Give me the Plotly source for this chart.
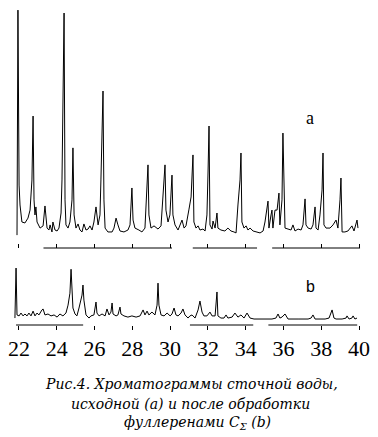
import plotly.graph_objects as go

# ---- Data (retention time, min; detector signal, arb. units) ----
time_a = [21.90, 21.95, 22.01, 22.06, 22.16, 22.32, 22.48, 22.59, 22.69, 22.75,
          22.80, 22.85, 22.90, 22.96, 23.12, 23.28, 23.38, 23.49, 23.59, 23.65,
          23.75, 23.80, 23.91, 24.02, 24.12, 24.23, 24.28, 24.33, 24.39, 24.44,
          24.49, 24.60, 24.70, 24.81, 24.86, 24.92, 25.02, 25.13, 25.23, 25.34,
          25.44, 25.55, 25.66, 25.76, 25.87, 25.97, 26.08, 26.19, 26.29, 26.34,
          26.40, 26.45, 26.50, 26.56, 26.71, 26.93, 27.03, 27.14, 27.24, 27.35,
          27.56, 27.77, 27.88, 27.98, 28.04, 28.14, 28.35, 28.51, 28.67, 28.72,
          28.83, 28.88, 28.99, 29.15, 29.36, 29.52, 29.62, 29.73, 29.78, 29.89,
          29.99, 30.10, 30.15, 30.26, 30.42, 30.52, 30.63, 30.74, 30.84, 31.00,
          31.11, 31.21, 31.26, 31.37, 31.48, 31.58, 31.74, 31.85, 31.95, 32.01,
          32.06, 32.11, 32.22, 32.27, 32.38, 32.48, 32.53, 32.69, 32.90, 33.06,
          33.22, 33.38, 33.49, 33.59, 33.70, 33.75, 33.80, 33.91, 34.02, 34.12,
          34.23, 34.39, 34.54, 34.76, 34.92, 35.02, 35.18, 35.23, 35.34, 35.39,
          35.44, 35.55, 35.66, 35.76, 35.81, 35.92, 35.97, 36.03, 36.08, 36.24,
          36.40, 36.50, 36.61, 36.77, 36.93, 37.03, 37.14, 37.19, 37.30, 37.46,
          37.56, 37.67, 37.72, 37.83, 37.93, 38.04, 38.09, 38.14, 38.25, 38.46,
          38.62, 38.78, 38.88, 38.99, 39.04, 39.10, 39.25, 39.41, 39.62, 39.73,
          39.84, 39.89, 39.94]
signal_a = [5.3, 97.9, 25.9, 17.7, 10.7, 10.3, 12.3, 15.6, 28.0, 54.3,
            19.8, 13.6, 16.9, 10.7, 8.2, 9.1, 17.3, 8.2, 7.4, 9.5,
            6.6, 10.7, 7.4, 7.0, 8.2, 14.4, 28.0, 60.9, 96.7, 19.8,
            9.5, 8.2, 10.7, 19.8, 41.2, 13.6, 8.2, 9.9, 7.4, 6.6,
            9.9, 7.4, 7.8, 9.1, 7.4, 10.7, 16.9, 9.5, 13.6, 28.0,
            52.7, 64.6, 19.8, 8.2, 6.6, 6.6, 8.2, 12.3, 9.5, 7.0,
            6.6, 7.4, 9.5, 24.7, 11.5, 8.2, 7.4, 6.6, 8.2, 15.6,
            34.2, 13.6, 8.2, 9.1, 7.8, 9.1, 21.8, 34.2, 15.6, 10.7,
            13.6, 30.0, 13.6, 9.5, 7.4, 9.1, 11.5, 8.2, 9.1, 16.0,
            21.0, 38.3, 10.7, 8.2, 9.1, 7.4, 7.8, 7.0, 13.6, 32.1,
            50.2, 9.5, 7.8, 11.1, 8.2, 14.4, 8.2, 7.4, 7.0, 8.2,
            7.0, 6.6, 6.2, 17.7, 28.0, 39.1, 10.7, 8.2, 9.1, 7.4,
            8.2, 7.0, 6.6, 6.2, 7.0, 10.7, 19.3, 8.2, 13.6, 15.6,
            8.2, 15.6, 15.6, 22.6, 9.5, 19.8, 47.3, 19.8, 8.2, 7.8,
            7.4, 9.5, 7.0, 7.8, 7.4, 9.5, 20.2, 9.5, 8.2, 7.8,
            9.5, 16.9, 8.2, 7.4, 13.6, 23.9, 39.1, 9.5, 8.2, 8.2,
            9.5, 11.5, 8.2, 19.8, 28.8, 6.6, 6.6, 7.0, 9.1, 7.0,
            9.5, 11.5, 8.2]

time_b = [21.79, 21.85, 21.90, 22.01, 22.11, 22.22, 22.32, 22.43, 22.53, 22.64,
          22.75, 22.85, 22.96, 23.06, 23.22, 23.28, 23.38, 23.54, 23.70, 23.86,
          24.02, 24.17, 24.33, 24.49, 24.60, 24.70, 24.76, 24.81, 24.86, 24.97,
          25.07, 25.18, 25.23, 25.34, 25.39, 25.44, 25.55, 25.71, 25.81, 25.97,
          26.08, 26.13, 26.24, 26.40, 26.56, 26.66, 26.77, 26.87, 26.93, 26.98,
          27.14, 27.24, 27.35, 27.40, 27.56, 27.77, 27.98, 28.20, 28.41, 28.57,
          28.67, 28.78, 28.88, 29.04, 29.20, 29.31, 29.36, 29.41, 29.52, 29.68,
          29.84, 30.00, 30.10, 30.21, 30.31, 30.42, 30.58, 30.68, 30.79, 30.95,
          31.05, 31.16, 31.32, 31.48, 31.58, 31.69, 31.79, 31.95, 32.11, 32.22,
          32.38, 32.43, 32.48, 32.53, 32.69, 32.85, 32.96, 33.06, 33.28, 33.43,
          33.59, 33.75, 33.91, 34.07, 34.23, 34.44, 34.86, 35.39, 35.60, 35.71,
          35.81, 35.92, 36.08, 36.24, 36.77, 37.30, 37.46, 37.56, 37.67, 38.20,
          38.41, 38.51, 38.57, 38.67, 38.78, 39.10, 39.31, 39.36, 39.47, 39.62,
          39.68, 39.78, 39.89]
signal_b = [2.9, 23.8, 4.2, 3.8, 5.0, 3.8, 4.6, 3.8, 5.0, 3.8,
            5.8, 3.8, 5.0, 4.2, 6.3, 6.7, 4.2, 4.6, 3.8, 4.2,
            3.3, 4.6, 3.8, 5.0, 8.3, 13.3, 23.3, 12.5, 7.1, 4.6,
            3.8, 7.1, 9.2, 12.5, 16.7, 10.4, 4.2, 2.9, 3.8, 4.2,
            9.6, 5.0, 3.8, 4.6, 3.8, 6.7, 4.2, 5.4, 9.2, 4.6,
            3.8, 4.2, 7.5, 4.6, 3.8, 3.3, 3.8, 3.3, 3.8, 6.3,
            4.2, 5.8, 4.2, 5.4, 4.2, 8.3, 17.5, 8.3, 4.2, 3.8,
            5.0, 3.8, 4.6, 7.1, 4.2, 3.8, 5.0, 6.7, 4.2, 2.9,
            3.8, 4.2, 2.9, 6.3, 10.0, 5.4, 3.8, 3.8, 5.4, 3.8,
            3.8, 8.3, 13.8, 3.8, 2.9, 2.9, 4.2, 2.9, 3.3, 5.0,
            3.3, 4.2, 2.9, 5.0, 2.9, 2.5, 2.5, 2.5, 2.9, 4.6,
            2.9, 3.3, 4.6, 2.5, 2.5, 2.5, 2.9, 4.2, 2.5, 2.5,
            2.9, 5.0, 6.3, 2.9, 2.5, 2.5, 2.9, 3.8, 2.5, 2.9,
            3.8, 2.5, 2.9]

# time-axis baseline pieces as printed in the figure (start, end), min
axis_a_pieces = [(23.3, 30.1), (31.2, 34.6), (35.4, 40.05)]
axis_b_pieces = [(21.85, 25.4), (31.05, 34.4), (35.2, 39.9)]

tick_values = [22, 24, 26, 28, 30, 32, 34, 36, 38, 40]
tick_labels = ["22", "24", "26", "28", "30", "32", "34", "36", "38", "40"]

caption_lines = ["Рис.4. Хроматограммы сточной воды,",
                 "исходной (a) и после обработки",
                 "фуллеренами C<sub>Σ</sub> (b)"]
panel_labels = ["a", "b"]

W, H = 378, 437
SERIF = "Liberation Serif, Times New Roman, DejaVu Serif, serif"
CAPTION_FONT = "DejaVu Serif, Liberation Serif, serif"


def pieces_xy(pieces):
    xs, ys = [], []
    for s, e in pieces:
        xs += [s, e, None]
        ys += [0, 0, None]
    return xs, ys


fig = go.Figure()

line_style = dict(color="black", width=1)

fig.add_trace(go.Scatter(x=time_a, y=signal_a, mode="lines", line=line_style,
                         xaxis="x2", yaxis="y", showlegend=False, hoverinfo="skip"))
ax, ay = pieces_xy(axis_a_pieces)
fig.add_trace(go.Scatter(x=ax, y=ay, mode="lines", line=line_style,
                         xaxis="x2", yaxis="y", showlegend=False, hoverinfo="skip"))

fig.add_trace(go.Scatter(x=time_b, y=signal_b, mode="lines", line=line_style,
                         xaxis="x", yaxis="y2", showlegend=False, hoverinfo="skip"))
bx, by = pieces_xy(axis_b_pieces)
fig.add_trace(go.Scatter(x=bx, y=by, mode="lines", line=line_style,
                         xaxis="x", yaxis="y2", showlegend=False, hoverinfo="skip"))


def py(p):
    return 1 - p / H


a_zero_px, a_top_px = 248, 5
b_zero_px, b_top_px = 325, 258
a_scale = (a_zero_px - a_top_px) / 100.0
b_scale = (b_zero_px - b_top_px) / 28.0

common_x = dict(range=[21, 41], domain=[0, 1], showgrid=False, zeroline=False,
                showline=False, tickvals=tick_values, ticktext=tick_labels,
                tickcolor="black", tickwidth=1, ticklen=4)

fig.update_layout(
    width=W, height=H,
    margin=dict(l=0, r=0, t=0, b=0),
    paper_bgcolor="white", plot_bgcolor="white",
    xaxis=dict(**common_x, anchor="free", position=py(b_zero_px), ticks="outside",
               showticklabels=True,
               tickfont=dict(family=SERIF, size=22, color="black")),
    xaxis2=dict(**common_x, anchor="free", position=py(a_zero_px), ticks="inside",
                showticklabels=False, matches="x"),
    yaxis=dict(domain=[py(a_zero_px + 2 * a_scale), py(a_top_px)], range=[-2, 100],
               visible=False, showgrid=False, zeroline=False),
    yaxis2=dict(domain=[py(b_zero_px + 2 * b_scale), py(b_top_px)], range=[-2, 28],
                visible=False, showgrid=False, zeroline=False),
    showlegend=False,
)

fig.add_annotation(x=310 / W, y=py(118), xref="paper", yref="paper", text=panel_labels[0],
                   showarrow=False, font=dict(family=SERIF, size=18, color="black"),
                   xanchor="center", yanchor="middle")
fig.add_annotation(x=310 / W, y=py(286), xref="paper", yref="paper", text=panel_labels[1],
                   showarrow=False, font=dict(family="Liberation Sans, Arial, sans-serif",
                                              size=16, color="black"),
                   xanchor="center", yanchor="middle")

cap_y = [384, 404, 423]
cap_x = [191, 190, 197]
for txt, yy, xx in zip(caption_lines, cap_y, cap_x):
    fig.add_annotation(x=xx / W, y=py(yy), xref="paper", yref="paper",
                       text="<i>" + txt + "</i>", showarrow=False,
                       font=dict(family=CAPTION_FONT, size=14, color="black"),
                       xanchor="center", yanchor="middle")

fig.write_html("out.html",
               config={"displayModeBar": False, "staticPlot": True},
               post_script="document.body.style.margin='0px';document.body.style.overflow='hidden';")
